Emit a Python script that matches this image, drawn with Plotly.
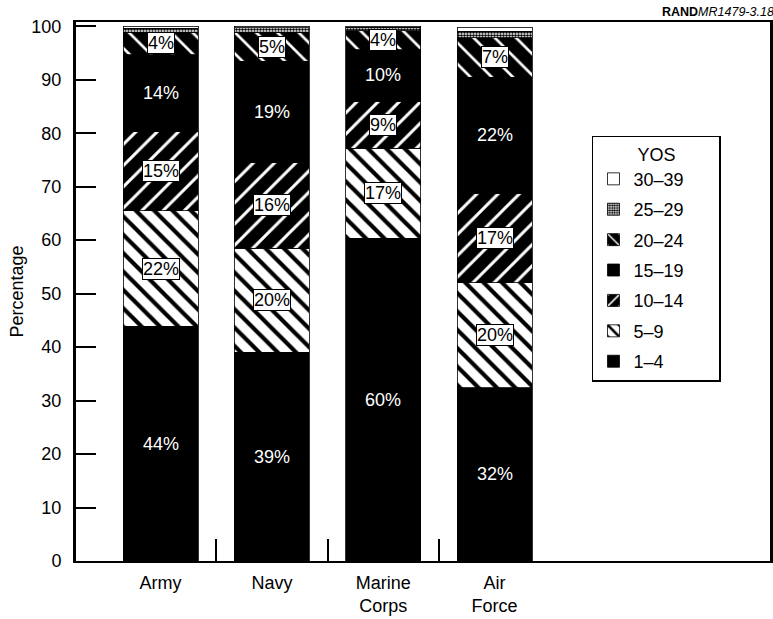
import plotly.graph_objects as go

# YOS distribution by service, percent of enlisted force
categories = ["Army", "Navy", "Marine<br>Corps", "Air<br>Force"]
yos_groups = ["1–4", "5–9", "10–14", "15–19", "20–24", "25–29", "30–39"]

pct_1_4 = [43.9, 39.0, 60.4, 32.4]
pct_5_9 = [21.6, 19.5, 16.8, 19.6]
pct_10_14 = [14.8, 16.0, 8.8, 16.8]
pct_15_19 = [14.4, 19.0, 9.6, 21.7]
pct_20_24 = [4.2, 5.4, 3.6, 7.4]
pct_25_29 = [0.7, 0.8, 0.6, 1.2]
pct_30_39 = [0.4, 0.3, 0.2, 0.7]

y_ticks = list(range(0, 101, 10))

all_values = [pct_1_4, pct_5_9, pct_10_14, pct_15_19, pct_20_24, pct_25_29, pct_30_39]

FONT = "Liberation Sans, Arial, Helvetica, sans-serif"

# fill look of each group (black, hatched, stippled, white)
styles = {
    "1–4": dict(shape="", fg="black", bg="black", size=8, solidity=0.3, label="plain"),
    "5–9": dict(shape="\\", fg="black", bg="white", size=13, solidity=0.32, label="box"),
    "10–14": dict(shape="/", fg="white", bg="black", size=15, solidity=0.2, label="box"),
    "15–19": dict(shape="", fg="black", bg="black", size=8, solidity=0.3, label="plain"),
    "20–24": dict(shape="\\", fg="white", bg="black", size=15, solidity=0.18, label="box"),
    "25–29": dict(shape=".", fg="black", bg="white", size=3, solidity=0.55, label=None),
    "30–39": dict(shape="", fg="white", bg="white", size=8, solidity=0.3, label=None),
}

xpos = list(range(len(categories)))
pad = "\u00a0" * 6  # widen the legend box a bit

fig = go.Figure()
for i, (name, vals) in enumerate(zip(yos_groups, all_values)):
    st = styles[name]
    fig.add_trace(
        go.Bar(
            x=xpos,
            y=vals,
            name=name + pad,
            width=0.674,
            legendgroup=name,
            legendrank=100 - i,
            hoverinfo="skip",
            marker=dict(
                color=st["bg"],
                pattern=dict(
                    shape=st["shape"],
                    fgcolor=st["fg"],
                    bgcolor=st["bg"],
                    size=st["size"],
                    solidity=st["solidity"],
                    fillmode="replace",
                ),
                line=dict(color="black", width=0.8),
            ),
        )
    )

# percentage labels in the middle of each segment
annotations = []
base = [0.0] * len(categories)
for name, vals in zip(yos_groups, all_values):
    kind = styles[name]["label"]
    for j, v in enumerate(vals):
        mid = base[j] + v / 2
        if kind == "plain":
            annotations.append(
                dict(x=xpos[j], y=mid, xref="x", yref="y", text=f"{v:.0f}%",
                     showarrow=False, font=dict(family=FONT, size=18, color="white"))
            )
        elif kind == "box":
            annotations.append(
                dict(x=xpos[j], y=mid, xref="x", yref="y", text=f"{v:.0f}%",
                     showarrow=False, font=dict(family=FONT, size=18, color="black"),
                     bgcolor="white", bordercolor="black", borderwidth=1, borderpad=0)
            )
        base[j] += v

annotations.append(
    dict(x=1.009, y=1.0, xref="paper", yref="paper", xanchor="right", yanchor="bottom",
         yshift=1, showarrow=False, text="<b>RAND</b><i>MR1479-3.18</i>",
         font=dict(family=FONT, size=12.5, color="black"))
)

fig.update_layout(
    barmode="stack",
    width=773,
    height=619,
    paper_bgcolor="white",
    plot_bgcolor="white",
    margin=dict(l=76, r=3, t=22, b=58),
    font=dict(family=FONT, size=18, color="black"),
    annotations=annotations,
    legend=dict(
        x=0.7435, y=0.789, xanchor="left", yanchor="top",
        bgcolor="white", bordercolor="black", borderwidth=1.5,
        traceorder="grouped", tracegroupgap=4,
        title=dict(text="YOS", side="top center", font=dict(size=18)),
        font=dict(size=18),
    ),
)

fig.update_xaxes(
    range=[-0.76, 5.475],
    tickmode="array",
    tickvals=xpos,
    ticktext=categories,
    ticks="",
    showline=True,
    linewidth=2,
    linecolor="black",
    mirror=True,
    showgrid=False,
    zeroline=False,
    automargin=False,
    tickfont=dict(size=18),
    ticklabelstandoff=4,
    minor=dict(
        tickmode="array",
        tickvals=[k + 0.5 for k in xpos[:-1]],
        ticks="inside",
        ticklen=22,
        tickwidth=1.5,
        tickcolor="black",
        showgrid=False,
    ),
)

fig.update_yaxes(
    range=[0, 100.8],
    tickmode="array",
    tickvals=y_ticks,
    ticks="inside",
    ticklen=20,
    tickwidth=1.5,
    tickcolor="black",
    showline=True,
    linewidth=3,
    linecolor="black",
    mirror=True,
    showgrid=False,
    zeroline=False,
    automargin=False,
    tickfont=dict(size=18),
    ticklabelstandoff=8,
    title=dict(text="Percentage", font=dict(size=18), standoff=4),
)

fig.write_html(
    "out.html",
    config={"displayModeBar": False},
    post_script="document.body.style.margin='0';",
)
